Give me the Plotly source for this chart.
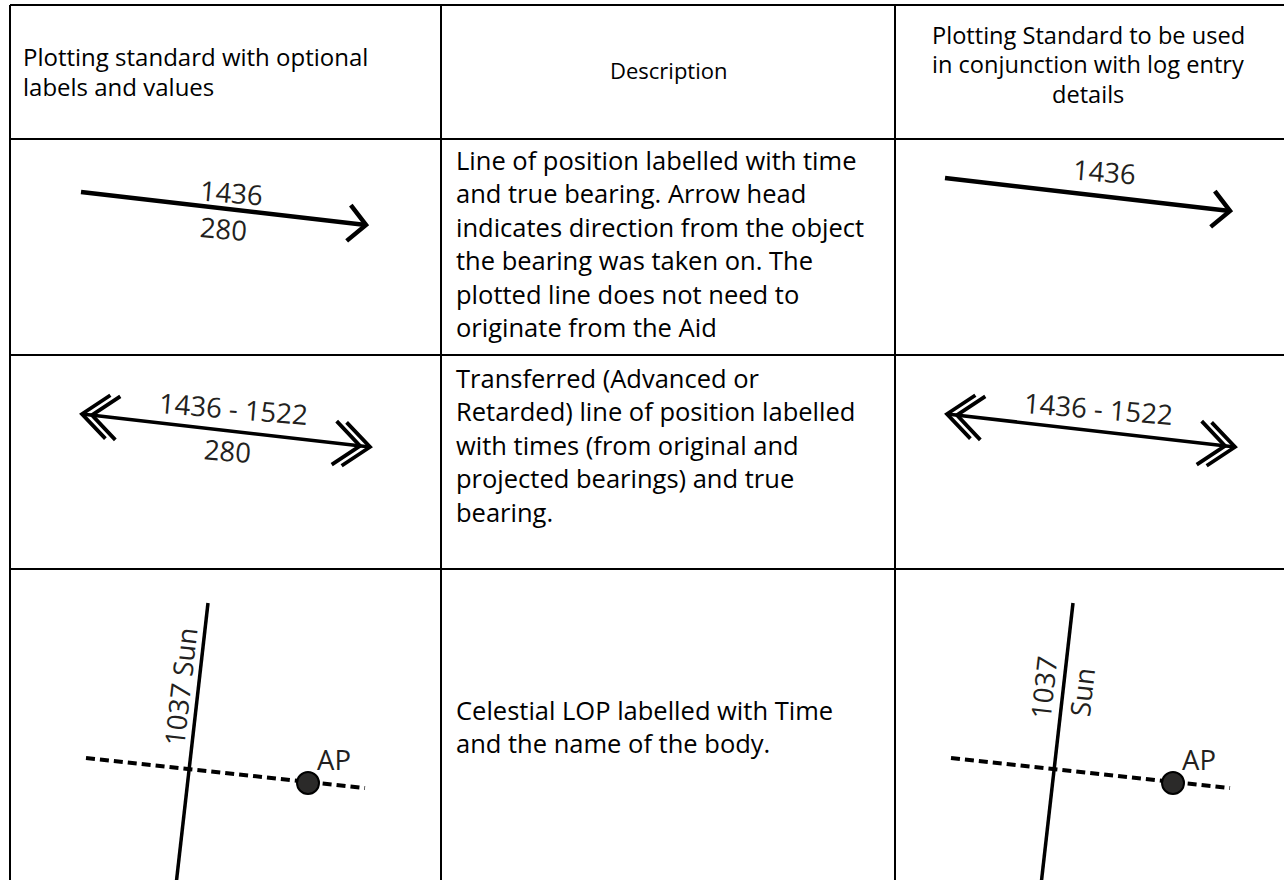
import math
import plotly.graph_objects as go

W, H = 1284, 880

# ---------------- table content ----------------
col_rules = [10, 441, 895]          # vertical rules (left border + column separators)
row_rules = [5, 139, 355, 569]      # horizontal rules

header_col1 = ["Plotting standard with optional", "labels and values"]
header_col2 = ["Description"]
header_col3 = ["Plotting Standard to be used", "in conjunction with log entry", "details"]

desc_row1 = ["Line of position labelled with time",
             "and true bearing. Arrow head",
             "indicates direction from the object",
             "the bearing was taken on. The",
             "plotted line does not need to",
             "originate from the Aid"]
desc_row2 = ["Transferred (Advanced or",
             "Retarded) line of position labelled",
             "with times (from original and",
             "projected bearings) and true",
             "bearing."]
desc_row3 = ["Celestial LOP labelled with Time",
             "and the name of the body."]

label_time = "1436"
label_bearing = "280"
label_transfer = "1436 - 1522"
label_cel_time = "1037"
label_body = "Sun"
label_ap = "AP"

# ---------------- styles ----------------
TXT_FONT = "Open Sans"
TXT_SIZE = 25.5
HEAD1_SIZE = 24
HEAD3_SIZE = 23.6
DESC_HEAD_SIZE = 22
LBL_FONT = "Open Sans"
LBL_SIZE = 27.5
INK = "#231f20"

fig = go.Figure()
annotations = []
shapes = []


def add_line(xs, ys, width, dash=None, color="black"):
    fig.add_trace(go.Scatter(x=xs, y=ys, mode="lines",
                             line=dict(color=color, width=width, dash=dash),
                             hoverinfo="skip"))


def chevron(tip, ang_deg, length, half):
    back = math.radians(ang_deg + 180)
    a1 = back + math.radians(half)
    a2 = back - math.radians(half)
    xs = [tip[0] + length * math.cos(a1), tip[0], tip[0] + length * math.cos(a2)]
    ys = [tip[1] + length * math.sin(a1), tip[1], tip[1] + length * math.sin(a2)]
    return xs, ys


def text(x, y, s, size=TXT_SIZE, font=TXT_FONT, xanchor="left", angle=0, color="black"):
    annotations.append(dict(x=x, y=y, xref="x", yref="y", text=s, showarrow=False,
                            xanchor=xanchor, yanchor="middle", textangle=angle,
                            borderpad=0,
                            font=dict(family=font, size=size, color=color)))


# ---------------- grid ----------------
for x in col_rules:
    shapes.append(dict(type="line", xref="x", yref="y", x0=x, x1=x, y0=row_rules[0], y1=H + 5,
                       line=dict(color="black", width=2)))
for y in row_rules:
    shapes.append(dict(type="line", xref="x", yref="y", x0=col_rules[0], x1=W + 5, y0=y, y1=y,
                       line=dict(color="black", width=2)))

# ---------------- header ----------------
for i, s in enumerate(header_col1):
    text(22, 56 + i * 30, s, size=HEAD1_SIZE)
for s in header_col2:
    text((col_rules[1] + col_rules[2]) / 2, 70, s, size=DESC_HEAD_SIZE, xanchor="center")
for i, s in enumerate(header_col3):
    text(1088, 34.5 + i * 29.5, s, size=HEAD3_SIZE, xanchor="center")

# ---------------- descriptions ----------------
DESC_X = 455
LINE_H = 33.4
for i, s in enumerate(desc_row1):
    text(DESC_X, 160 + i * LINE_H, s)
for i, s in enumerate(desc_row2):
    text(DESC_X, 378 + i * LINE_H, s)
for i, s in enumerate(desc_row3):
    text(DESC_X, 710 + i * LINE_H, s)


# ---------------- row 1 symbol: LOP with single arrow ----------------
def lop_arrow(dx, dy, with_bearing, time_pos):
    x0, y0, x1, y1 = 81 + dx, 192 + dy, 366 + dx, 225 + dy
    ang = math.degrees(math.atan2(y1 - y0, x1 - x0))
    add_line([x0, x1], [y0, y1], 4.5)
    cx, cy = chevron((x1, y1), ang, 25, 46)
    add_line(cx, cy, 4.5)
    text(time_pos[0], time_pos[1], label_time, size=LBL_SIZE, font=LBL_FONT,
         xanchor="center", angle=ang * 0.7, color=INK)
    if with_bearing:
        text(223 + dx, 228 + dy, label_bearing, size=LBL_SIZE, font=LBL_FONT,
             xanchor="center", angle=ang * 0.7, color=INK)


lop_arrow(0, 0, True, (231, 192))
lop_arrow(864, -14, False, (1104, 171))


# ---------------- row 2 symbol: transferred LOP ----------------
def transferred(dx, with_bearing):
    x0, y0, x1, y1 = 82 + dx, 414, 370 + dx, 447
    ang = math.degrees(math.atan2(y1 - y0, x1 - x0))
    add_line([x0, x1], [y0, y1], 3.5)
    ux, uy = math.cos(math.radians(ang)), math.sin(math.radians(ang))
    for k in range(2):
        off = 10 * k
        cx, cy = chevron((x1 - ux * off, y1 - uy * off), ang, 34, 40)
        add_line(cx, cy, 3.8)
        cx, cy = chevron((x0 + ux * off, y0 + uy * off), ang + 180, 34, 40)
        add_line(cx, cy, 3.8)
    text(233 + dx, 408, label_transfer, size=LBL_SIZE, font=LBL_FONT,
         xanchor="center", angle=ang * 0.7, color=INK)
    if with_bearing:
        text(227 + dx, 450, label_bearing, size=LBL_SIZE, font=LBL_FONT,
             xanchor="center", angle=ang * 0.7, color=INK)


transferred(0, True)
transferred(865, False)


# ---------------- row 3 symbol: celestial LOP ----------------
def celestial(dx, split_label):
    tx0, ty0, tx1, ty1 = 208 + dx, 603, 176 + dx, H + 5
    ang = math.degrees(math.atan2(ty0 - ty1, tx0 - tx1))
    add_line([86 + dx, 365 + dx], [758, 788], 4, dash="9px,5px")
    add_line([tx0, tx1], [ty0, ty1], 3.5)
    fig.add_trace(go.Scatter(x=[308 + dx], y=[783], mode="markers",
                             marker=dict(size=22, color="#2b2a29",
                                         line=dict(color="black", width=2)),
                             hoverinfo="skip"))
    text(333.5 + dx, 759, label_ap, size=LBL_SIZE, font=LBL_FONT, xanchor="center", color=INK)
    if split_label:
        text(1043.5, 687.5, label_cel_time, size=LBL_SIZE, font=LBL_FONT,
             xanchor="center", angle=ang, color=INK)
        text(1081.5, 692, label_body, size=LBL_SIZE, font=LBL_FONT,
             xanchor="center", angle=ang, color=INK)
    else:
        text(180, 687, label_cel_time + " " + label_body, size=LBL_SIZE, font=LBL_FONT,
             xanchor="center", angle=ang, color=INK)


celestial(0, False)
celestial(865, True)

fig.update_layout(
    width=W, height=H,
    margin=dict(l=0, r=0, t=0, b=0),
    paper_bgcolor="white", plot_bgcolor="white",
    showlegend=False,
    xaxis=dict(range=[0, W], visible=False, fixedrange=True),
    yaxis=dict(range=[H, 0], visible=False, fixedrange=True),
    annotations=annotations,
    shapes=shapes,
)

fig.write_html("out.html", config={"displayModeBar": False},
               post_script="document.body.style.margin='0';document.body.style.overflow='hidden';")
